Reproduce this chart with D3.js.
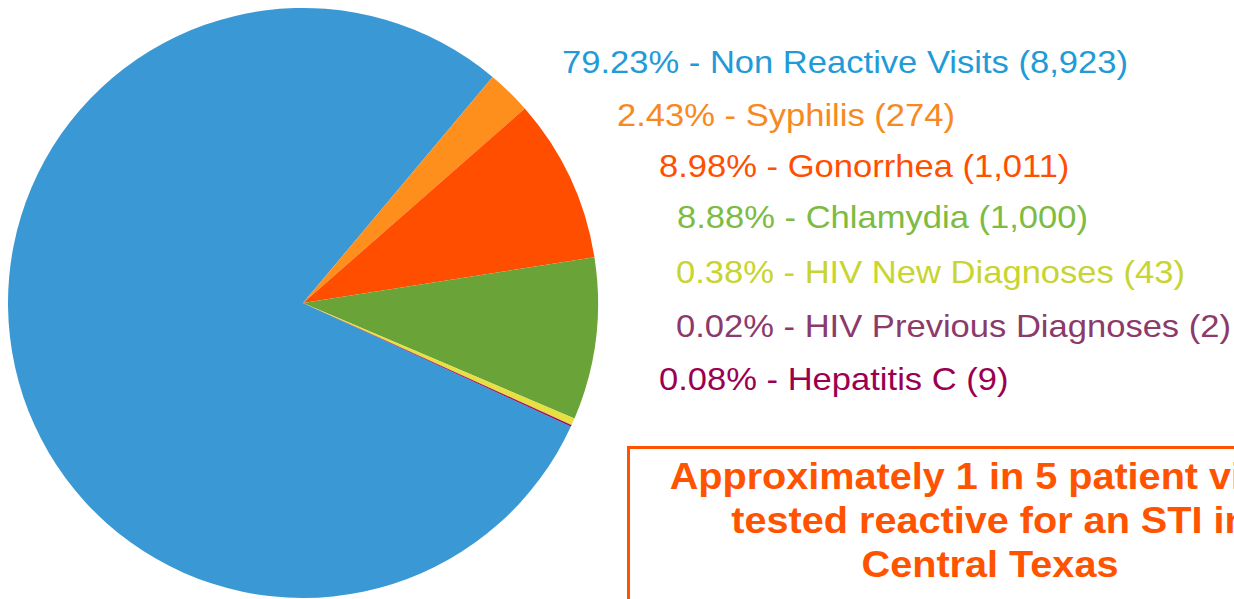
<!DOCTYPE html>
<html lang="en">
<head>
	<meta charset="UTF-8">
	<title>STI test results</title>
	<script src="https://d3js.org/d3.v7.min.js"></script>
	<style>
		body { margin: 0; background: #fff; }
		.legend text { font-family: "Liberation Sans", Arial, Helvetica, sans-serif; font-size: 32px; }
		.note text { font-family: "Liberation Sans", Arial, Helvetica, sans-serif; font-size: 37px; font-weight: bold; fill: #ff5300; text-anchor: middle; }
	</style>
</head>
<body>
<svg class="chart"></svg>
<script>
	var categories = ["Non Reactive Visits", "Syphilis", "Gonorrhea", "Chlamydia",
		"HIV New Diagnoses", "HIV Previous Diagnoses", "Hepatitis C"];
	var counts = [8923, 274, 1011, 1000, 43, 2, 9];
	var sliceColors = ["#3a98d4", "#fe8f1d", "#ff4e00", "#6aa338", "#e6e043", "#8b3a6b", "#9b0050"];
	var textColors = ["#1f9bd7", "#f7891f", "#ff4f00", "#7dbb42", "#c8d42f", "#8b3a6b", "#9b0050"];
	var noteLines = ["Approximately 1 in 5 patient visits", "tested reactive for an STI in", "Central Texas"];

	var width = 1234, height = 599;
	var cx = 303, cy = 303, radius = 295;

	var svg = d3.select(".chart")
		.attr("width", width)
		.attr("height", height);

	var total = d3.sum(counts);
	var data = categories.map(function(c, i) { return { name: c, value: counts[i], i: i }; });

	// blue slice ends at ~40deg, the small ones follow clockwise
	var start = 40 * Math.PI / 180 - 2 * Math.PI * counts[0] / total;
	var pie = d3.pie().sort(null).value(d => d.value)
		.startAngle(start).endAngle(start + 2 * Math.PI);
	var arc = d3.arc().innerRadius(0).outerRadius(radius);

	svg.append("g")
		.attr("transform", "translate(" + cx + "," + cy + ")")
		.selectAll("path")
		.data(pie(data))
		.enter().append("path")
		.attr("d", arc)
		.attr("fill", d => sliceColors[d.data.i]);

	// legend lines, staggered like the original
	var legendX = [562, 617, 659, 677, 676, 676, 659];
	var legendY = [73, 126, 177, 228, 283, 337, 390];
	var pct = d3.format(".2%"), num = d3.format(",");

	var labels = svg.append("g").attr("class", "legend")
		.selectAll("text")
		.data(data)
		.enter().append("text")
		.attr("fill", d => textColors[d.i])
		.text(d => pct(d.value / total) + " - " + d.name + " (" + num(d.value) + ")");

	// stretch so the first line spans the same width as the original (~566px)
	var sx = 566 / labels.node().getComputedTextLength();
	labels.attr("transform", (d, i) => "translate(" + legendX[i] + "," + legendY[i] + ") scale(" + sx + ",1)");

	var note = svg.append("g").attr("class", "note");
	note.append("rect")
		.attr("x", 628.5).attr("y", 447.5)
		.attr("width", 700).attr("height", 300)
		.attr("fill", "none")
		.attr("stroke", "#ff5300")
		.attr("stroke-width", 3);
	var noteText = note.selectAll("text")
		.data(noteLines)
		.enter().append("text")
		.text(d => d);
	var nsx = 257 / noteText.filter((d, i) => i == 2).node().getComputedTextLength();
	noteText.attr("transform", (d, i) => "translate(990," + (489 + i * 44) + ") scale(" + nsx + ",1)");
</script>
</body>
</html>
